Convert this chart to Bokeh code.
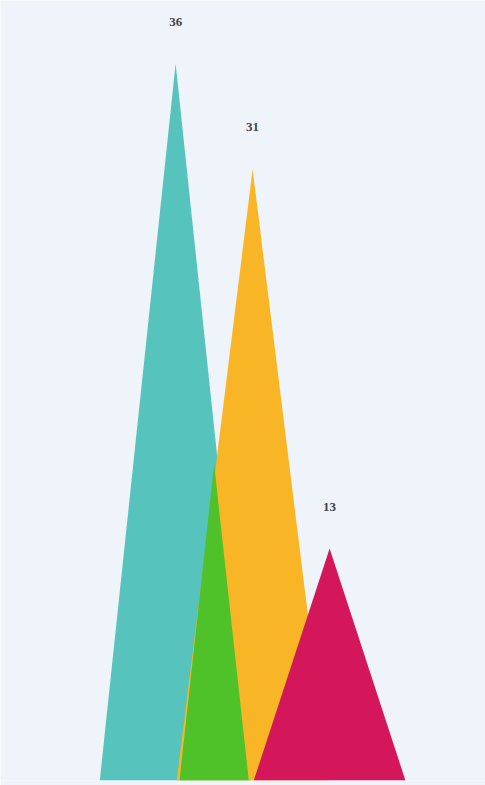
from bokeh.plotting import figure
from bokeh.models import ColumnDataSource, Range1d, LabelSet
from bokeh.embed import file_html
from bokeh.resources import INLINE

# data
categories = ["A", "B", "C", "D", "E"]
positions = [0, 1, 2, 3, 4]          # category slot index
values = [36, 17, 31, 0, 13]
labels = ["36", "", "31", "", "13"]
colors = ["#56c3bc", "#4fc22a", "#f8b627", "#ffffff", "#d4175a"]
half_widths = [1.97, 0.9, 1.97, 1.97, 1.97]
draw_order = [0, 2, 1, 4]
y_start = 2

p = figure(width=485, height=785, output_backend="svg", toolbar_location=None,
           x_range=Range1d(-4.55, 8.05), y_range=Range1d(y_start, 39),
           min_border_left=0, min_border_right=0, min_border_top=0, min_border_bottom=5)
p.background_fill_color = "#eff3fa"
p.border_fill_color = "#eff3fa"
p.outline_line_color = None
p.axis.visible = False
p.grid.visible = False

xs, ys, fc = [], [], []
for i in draw_order:
    if values[i] <= 0:
        continue
    c = positions[i]
    w = half_widths[i]
    xs.append([c - w, c, c + w])
    ys.append([y_start, values[i], y_start])
    fc.append(colors[i])
p.patches(xs=xs, ys=ys, fill_color=fc, line_color=None, fill_alpha=1.0)

lab_src = ColumnDataSource(dict(x=[positions[i] for i in range(len(values)) if labels[i]],
                                y=[values[i] for i in range(len(values)) if labels[i]],
                                t=[labels[i] for i in range(len(values)) if labels[i]]))
p.add_layout(LabelSet(x="x", y="y", text="t", source=lab_src, text_align="center",
                      text_baseline="middle", y_offset=42, text_font_size="13px",
                      text_color="#444444", text_font="Noto Sans", text_font_style="bold"))

open("out.html", "w").write(file_html(p, INLINE))
